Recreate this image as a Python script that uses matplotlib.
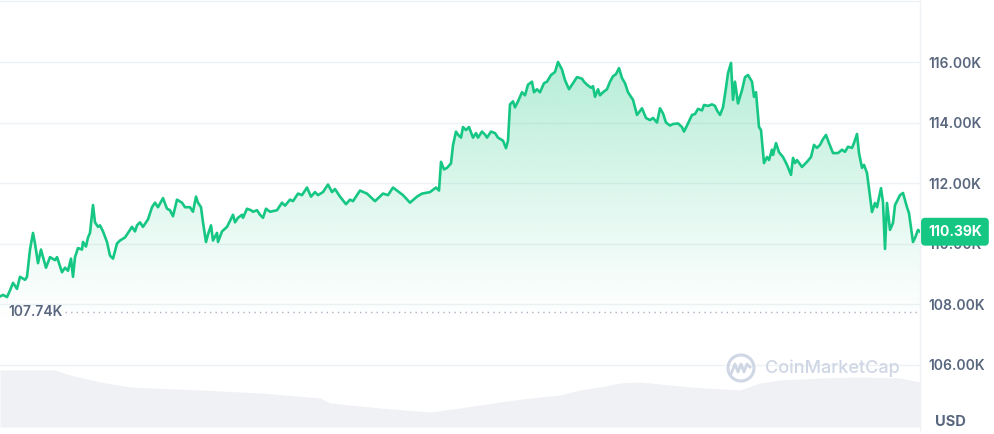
import numpy as np
import matplotlib.pyplot as plt
from matplotlib.patches import Circle
from matplotlib.lines import Line2D

# time steps along the 7 day window (arbitrary index units), price in thousands USD
t_1 = [0, 3, 7, 10, 13, 17, 20, 25, 27, 30,
       33, 35, 38, 41, 43, 46, 50, 55, 57, 62,
       65, 68, 71, 73, 75, 78, 82, 83, 86, 88,
       90, 93, 95, 98, 100, 103, 107, 110, 113, 117,
       120, 125, 128, 132, 135, 137, 140, 143, 148, 152,
       155, 158, 163, 167, 170, 173, 177, 182, 185, 190,
       193, 196, 198, 201, 203, 206, 208, 211, 213, 217,
       218, 222, 227]
p_1 = [108.25, 108.30, 108.23, 108.45, 108.70, 108.50, 108.90, 108.80, 108.90, 109.80,
       110.35, 110.00, 109.35, 109.80, 109.55, 109.20, 109.55, 109.45, 109.55, 109.05,
       109.20, 109.10, 109.50, 108.90, 109.55, 109.85, 109.80, 110.05, 109.90, 110.20,
       110.35, 111.27, 110.70, 110.55, 110.60, 110.40, 110.05, 109.60, 109.50, 110.00,
       110.10, 110.20, 110.35, 110.55, 110.40, 110.60, 110.70, 110.55, 110.80, 111.20,
       111.35, 111.20, 111.50, 111.15, 111.10, 110.90, 111.45, 111.35, 111.20, 111.20,
       111.05, 111.55, 111.35, 111.20, 110.70, 110.05, 110.30, 110.60, 110.10, 110.35,
       110.05, 110.40, 110.55]

t_2 = [233, 235, 238, 242, 243, 247, 251, 253, 257, 260,
       263, 266, 270, 277, 282, 285, 290, 293, 298, 302,
       307, 311, 315, 318, 323, 328, 332, 335, 340, 346,
       350, 353, 360, 367, 375, 383, 388, 393, 397, 403,
       410, 417, 422, 430, 436, 439]
p_2 = [110.95, 110.70, 110.85, 110.95, 110.85, 111.15, 111.10, 111.05, 111.10, 110.95,
       110.85, 111.15, 111.05, 111.10, 111.35, 111.25, 111.45, 111.40, 111.65, 111.60,
       111.85, 111.55, 111.70, 111.60, 111.70, 111.95, 111.70, 111.80, 111.55, 111.30,
       111.45, 111.40, 111.75, 111.65, 111.40, 111.65, 111.60, 111.85, 111.75, 111.60,
       111.35, 111.55, 111.65, 111.70, 111.85, 111.75]

t_3 = [441, 444, 447, 451, 453, 456, 458, 461, 463, 466,
       469, 473, 476, 478, 482, 485, 487, 491, 495, 498,
       503, 506, 508, 510, 513, 515, 518, 522, 525, 528,
       532, 534, 537, 540, 544, 547, 551, 555, 558, 562,
       565, 569, 573, 577, 582, 584, 587, 591, 593, 595,
       598, 600, 603, 607, 610, 613, 616, 619, 622, 625,
       628, 633, 637, 642, 646, 650, 653, 657, 660]
p_3 = [112.70, 112.45, 112.50, 112.65, 113.25, 113.70, 113.60, 113.50, 113.85, 113.75,
       113.85, 113.50, 113.65, 113.50, 113.70, 113.60, 113.50, 113.70, 113.65, 113.50,
       113.40, 113.15, 113.40, 114.60, 114.70, 114.50, 114.70, 115.00, 114.90, 115.25,
       115.35, 115.00, 115.10, 115.00, 115.30, 115.35, 115.57, 115.67, 116.00, 115.75,
       115.40, 115.10, 115.30, 115.50, 115.45, 115.35, 115.25, 115.15, 115.20, 114.85,
       115.10, 114.90, 115.00, 115.10, 115.35, 115.53, 115.60, 115.80, 115.47, 115.30,
       115.00, 114.75, 114.25, 114.47, 114.15, 114.08, 114.15, 114.00, 114.47]

t_4 = [663, 666, 670, 673, 678, 682, 684, 687, 692, 695,
       698, 702, 704, 708, 712, 715, 717, 720, 723, 726,
       728, 731, 733, 735, 738, 742, 745, 748, 752, 754,
       756, 757, 759, 761, 764, 767, 769, 772, 773, 776,
       779, 783, 787, 791, 793, 795, 797, 802, 807, 811,
       814, 817, 820, 823, 826, 829, 833, 838, 842, 845,
       848, 852, 854, 857, 859, 862, 864, 867, 872, 875,
       877, 881, 883, 885, 887, 890, 893, 895, 900, 903,
       907, 909, 913, 915, 918, 920]
p_4 = [114.30, 114.00, 113.90, 113.95, 113.97, 113.85, 113.70, 113.90, 114.25, 114.28,
       114.45, 114.40, 114.58, 114.55, 114.60, 114.55, 114.40, 114.25, 114.50, 115.15,
       115.63, 115.97, 114.75, 115.35, 114.63, 115.07, 115.50, 115.57, 115.35, 114.85,
       115.00, 114.63, 113.85, 113.75, 112.66, 112.86, 112.76, 113.10, 112.93, 113.32,
       113.02, 112.86, 112.60, 112.27, 112.83, 112.66, 112.76, 112.53, 112.70, 112.86,
       113.26, 113.16, 113.26, 113.45, 113.59, 113.32, 112.99, 112.99, 113.10, 113.03,
       113.20, 113.16, 113.32, 113.62, 112.99, 112.50, 112.60, 112.33, 111.04, 111.34,
       111.20, 111.83, 111.37, 109.82, 111.34, 110.45, 110.68, 111.27, 111.60, 111.67,
       111.20, 111.00, 110.05, 110.18, 110.45, 110.39]

# trading volume (billions USD, rough outline of the grey area)
t_vol = [0, 55, 70, 100, 130, 200, 260, 320, 330, 380, 430, 460, 500, 530,
         560, 580, 600, 620, 640, 660, 690, 740, 760, 780, 820, 860, 900, 920]
vol_b = [5.7, 5.7, 5.2, 4.5, 4.0, 3.7, 3.4, 2.9, 2.4, 1.9, 1.5, 1.9, 2.5, 2.9,
         3.2, 3.7, 4.0, 4.4, 4.5, 4.3, 4.0, 3.7, 4.4, 4.7, 4.9, 5.0, 4.9, 4.5]

y_ticks = [106, 108, 110, 112, 114, 116]
open_price = 107.74
last_price = 110.39

t = np.array(t_1 + t_2 + t_3 + t_4, dtype=float)
p = np.array(p_1 + p_2 + p_3 + p_4)
assert len(t) == len(p)

GREEN = "#16c784"
GREY_TXT = "#58667e"
GRID = "#eff2f5"
W, H = 994, 434
FS = 10

plt.rcParams["font.family"] = ["Inter", "DejaVu Sans"]

fig = plt.figure(figsize=(W / 100, H / 100), dpi=100)
rect = [0, 4 / H, 920 / W, 429 / H]

ax_vol = fig.add_axes(rect, zorder=0)
ax_vol.fill_between(t_vol, vol_b, 0, color="#eff1f5", lw=0)
ax_vol.set_xlim(0, 920)
ax_vol.set_ylim(-0.3, 42.6)
ax_vol.axis("off")

ax = fig.add_axes(rect, zorder=1)
ax.set_facecolor("none")

# gradient fill under the price line
fill_floor = 107.4
grad = np.linspace(0, 1, 256)[:, None]
rgba = np.zeros((256, 1, 4))
rgba[..., :3] = [0x16 / 255, 0xc7 / 255, 0x84 / 255]
rgba[..., 3] = 0.32 * grad ** 1.1
poly = ax.fill_between(t, p, fill_floor, facecolor="none", edgecolor="none")
im = ax.imshow(rgba, extent=[0, 920, fill_floor, 116.1], origin="lower",
               aspect="auto", zorder=1, interpolation="bilinear")
im.set_clip_path(poly.get_paths()[0], transform=ax.transData)

ax.plot(t, p, color=GREEN, lw=1.9, zorder=3, solid_joinstyle="round")

for yv in y_ticks:
    ax.axhline(yv, color=GRID, lw=1, zorder=0)

ax.hlines(open_price, 65, 920, colors="#a9b3c4", lw=1,
          linestyles=(0, (1, 3)), zorder=2)
ax.text(8, open_price, f"{open_price:.2f}K", ha="left", va="center",
        fontsize=FS, fontweight="semibold", color=GREY_TXT, zorder=4)

ax.set_xlim(0, 920)
ax.set_ylim(103.835, 118.017)
ax.set_xticks([])
ax.yaxis.tick_right()
ax.set_yticks(y_ticks)
ax.set_yticklabels([f"{v:.2f}K" for v in y_ticks])
ax.tick_params(axis="y", length=0, pad=6, labelsize=FS, labelcolor=GREY_TXT)
for lab in ax.get_yticklabels():
    lab.set_fontweight("semibold")

for side in ["left", "bottom"]:
    ax.spines[side].set_visible(False)
for side in ["top", "right"]:
    ax.spines[side].set_color(GRID)
    ax.spines[side].set_linewidth(1)

# current price tag
ax.text(1 + 8 / 920, last_price, f"{last_price:.2f}K",
        transform=ax.get_yaxis_transform(), ha="left", va="center",
        fontsize=FS, fontweight="bold", color="white", zorder=10, clip_on=False,
        bbox=dict(boxstyle="round,pad=0.5,rounding_size=0.3", fc=GREEN, ec="none"))

fig.text(935 / W, 1 - 422 / H, "USD", ha="left", va="center",
         fontsize=10.5, fontweight="bold", color=GREY_TXT)

# watermark
WM = "#cfd6e4"
fig.add_artist(Circle((741, H - 368), 13, transform=None, fill=False,
                      ec=WM, lw=2.2, zorder=5))
wave_x = [731, 735, 738, 741, 744, 747, 750]
wave_y = [374, 364, 372, 364, 372, 364, 367]
fig.add_artist(Line2D([x / W for x in wave_x], [1 - y / H for y in wave_y],
                      transform=fig.transFigure, color=WM, lw=2.0,
                      solid_joinstyle="round", zorder=5))
fig.text(765 / W, 1 - 368 / H, "CoinMarketCap", ha="left", va="center",
         fontsize=13, fontweight="medium", color=WM, zorder=5)

fig.savefig("out.png", dpi=100)
